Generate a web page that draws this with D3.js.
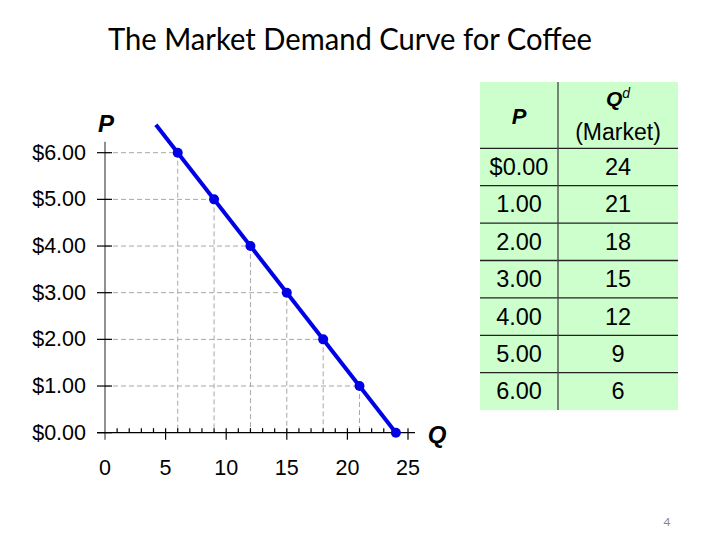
<!DOCTYPE html>
<html>
<head>
<meta charset="utf-8">
<script src="https://cdn.jsdelivr.net/npm/d3@7"></script>
<style>
  html, body { margin: 0; padding: 0; background: #fff; }
  svg { display: block; }
</style>
</head>
<body>
<div id="chart"></div>
<script>
// demand schedule for coffee (market)
const prices = [0, 1, 2, 3, 4, 5, 6];
const quantities = [24, 21, 18, 15, 12, 9, 6];
const priceLabels = ['$0.00', '1.00', '2.00', '3.00', '4.00', '5.00', '6.00'];
const yTickLabels = ['$0.00', '$1.00', '$2.00', '$3.00', '$4.00', '$5.00', '$6.00'];
const xTickValues = [0, 5, 10, 15, 20, 25];
// the drawn line runs a bit past the $6 point at the top
const curveTop = { q: 4.2, p: 6.6 };

const width = 720;
const height = 540;
const font = '"Liberation Sans", Arial, sans-serif';

const svg = d3
  .select('#chart')
  .append('svg')
  .attr('width', width)
  .attr('height', height);

svg
  .append('text')
  .attr('x', 108)
  .attr('y', 50)
  .attr('font-family', 'Lato, "Open Sans", sans-serif')
  .attr('font-size', 30)
  .attr('textLength', 484)
  .attr('lengthAdjust', 'spacingAndGlyphs')
  .attr('fill', '#000')
  .text('The Market Demand Curve for Coffee');

const xScale = d3.scaleLinear().domain([0, 25]).range([105, 408]);
const yScale = d3.scaleLinear().domain([0, 6]).range([432.7, 152.7]);

const data = prices.map((p, i) => ({ p, q: quantities[i] }));

// dashed guide lines
const guides = svg.append('g').attr('stroke', '#a8a8a8').attr('stroke-width', 1).attr('stroke-dasharray', '5,3');
data.filter((d) => d.p > 0).forEach((d) => {
  guides
    .append('line')
    .attr('x1', xScale(0))
    .attr('x2', xScale(d.q))
    .attr('y1', yScale(d.p))
    .attr('y2', yScale(d.p));
  guides
    .append('line')
    .attr('x1', xScale(d.q))
    .attr('x2', xScale(d.q))
    .attr('y1', yScale(d.p))
    .attr('y2', yScale(0));
});

// y axis
svg
  .append('line')
  .attr('x1', xScale(0))
  .attr('x2', xScale(0))
  .attr('y1', 141.7)
  .attr('y2', yScale(0) + 7)
  .attr('stroke', '#555')
  .attr('stroke-width', 1.3);

const yAxis = svg.append('g');
prices.forEach((p, i) => {
  yAxis
    .append('line')
    .attr('x1', xScale(0) - 8)
    .attr('x2', xScale(0) + 7)
    .attr('y1', yScale(p))
    .attr('y2', yScale(p))
    .attr('stroke', '#000')
    .attr('stroke-width', 1.2);
  yAxis
    .append('text')
    .attr('x', 86)
    .attr('y', yScale(p) + 7)
    .attr('text-anchor', 'end')
    .attr('font-family', font)
    .attr('font-size', 21.5)
    .text(yTickLabels[i]);
});

// x axis
svg
  .append('line')
  .attr('x1', xScale(0) - 8)
  .attr('x2', 415)
  .attr('y1', yScale(0))
  .attr('y2', yScale(0))
  .attr('stroke', '#000')
  .attr('stroke-width', 1.2);

const xAxis = svg.append('g');
d3.range(1, 26).forEach((q) => {
  const major = q % 5 === 0;
  xAxis
    .append('line')
    .attr('x1', xScale(q))
    .attr('x2', xScale(q))
    .attr('y1', yScale(0) - 4.5)
    .attr('y2', major ? yScale(0) + 7 : yScale(0))
    .attr('stroke', '#000')
    .attr('stroke-width', 1.2);
});
xTickValues.forEach((q) => {
  xAxis
    .append('text')
    .attr('x', xScale(q))
    .attr('y', yScale(0) + 42)
    .attr('text-anchor', 'middle')
    .attr('font-family', font)
    .attr('font-size', 21.5)
    .text(q);
});

// axis letters
svg
  .append('text')
  .attr('x', 106)
  .attr('y', 132)
  .attr('text-anchor', 'middle')
  .attr('font-family', font)
  .attr('font-size', 24)
  .attr('font-weight', 'bold')
  .attr('font-style', 'italic')
  .text('P');

svg
  .append('text')
  .attr('x', 437)
  .attr('y', 443)
  .attr('text-anchor', 'middle')
  .attr('font-family', font)
  .attr('font-size', 24)
  .attr('font-weight', 'bold')
  .attr('font-style', 'italic')
  .text('Q');

// demand curve
const line = d3
  .line()
  .x((d) => xScale(d.q))
  .y((d) => yScale(d.p));

svg
  .append('path')
  .datum([curveTop, data[0]])
  .attr('fill', 'none')
  .attr('stroke', '#0000e6')
  .attr('stroke-width', 4)
  .attr('d', line);

svg
  .selectAll('.pt')
  .data(data)
  .enter()
  .append('circle')
  .attr('class', 'pt')
  .attr('cx', (d) => xScale(d.q))
  .attr('cy', (d) => yScale(d.p))
  .attr('r', 5)
  .attr('fill', '#0000e6');

// demand schedule table
const tbl = { x: 480, x2: 678, mid: 558, top: 82, head: 148.3, rowH: 37.4 };
const t = svg.append('g');
const rowY = (i) => tbl.head + i * tbl.rowH;

t.append('rect')
  .attr('x', tbl.x)
  .attr('y', tbl.top)
  .attr('width', tbl.x2 - tbl.x)
  .attr('height', rowY(prices.length) - tbl.top)
  .attr('fill', '#ccffcc');

prices.forEach((p, i) => {
  t.append('line')
    .attr('x1', tbl.x)
    .attr('x2', tbl.x2)
    .attr('y1', rowY(i))
    .attr('y2', rowY(i))
    .attr('stroke', '#222')
    .attr('stroke-width', 1.3);
  t.append('text')
    .attr('x', (tbl.x + tbl.mid) / 2)
    .attr('y', rowY(i) + tbl.rowH / 2 + 8)
    .attr('text-anchor', 'middle')
    .attr('font-family', font)
    .attr('font-size', 23.5)
    .text(priceLabels[i]);
  t.append('text')
    .attr('x', (tbl.mid + tbl.x2) / 2)
    .attr('y', rowY(i) + tbl.rowH / 2 + 8)
    .attr('text-anchor', 'middle')
    .attr('font-family', font)
    .attr('font-size', 23.5)
    .text(quantities[i]);
});

t.append('line')
  .attr('x1', tbl.mid)
  .attr('x2', tbl.mid)
  .attr('y1', tbl.top)
  .attr('y2', rowY(prices.length))
  .attr('stroke', '#444')
  .attr('stroke-width', 1.3);

t.append('text')
  .attr('x', (tbl.x + tbl.mid) / 2)
  .attr('y', 124)
  .attr('text-anchor', 'middle')
  .attr('font-family', font)
  .attr('font-size', 22)
  .attr('font-weight', 'bold')
  .attr('font-style', 'italic')
  .text('P');

const qHead = t
  .append('text')
  .attr('x', (tbl.mid + tbl.x2) / 2)
  .attr('y', 106)
  .attr('text-anchor', 'middle')
  .attr('font-family', font)
  .attr('font-size', 21)
  .attr('font-weight', 'bold')
  .attr('font-style', 'italic');
qHead.append('tspan').text('Q');
qHead
  .append('tspan')
  .attr('dy', -8)
  .attr('font-size', 14)
  .attr('font-weight', 'normal')
  .text('d');

t.append('text')
  .attr('x', (tbl.mid + tbl.x2) / 2)
  .attr('y', 140)
  .attr('text-anchor', 'middle')
  .attr('font-family', font)
  .attr('font-size', 23)
  .text('(Market)');

// slide number
svg
  .append('text')
  .attr('x', 667)
  .attr('y', 526)
  .attr('text-anchor', 'middle')
  .attr('font-family', 'Lato, sans-serif')
  .attr('font-size', 12)
  .attr('fill', '#888')
  .text('4');
</script>
</body>
</html>
